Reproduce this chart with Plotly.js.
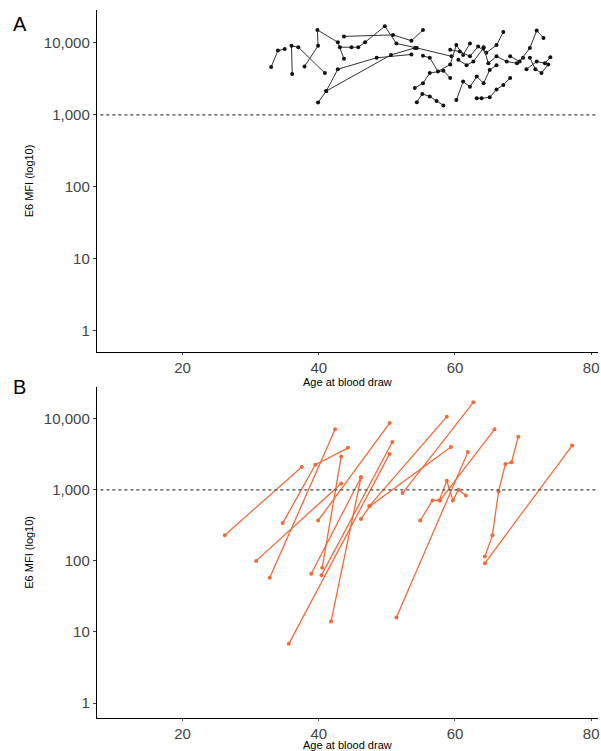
<!DOCTYPE html>
<html><head><script src="https://cdn.plot.ly/plotly-3.0.1.min.js"></script>
<style>body{margin:0}</style></head><body><div id="c" style="width:601px;height:751px"></div>
<script>
// Panel A: HPV16 E6 seropositive individuals (age, MFI sequences)
const aAges = [
 [33.0,34.0,35.0],[36.1,36.0,37.0,40.9],[37.9,39.9,39.8,42.8,43.7],
 [39.9,41.1,42.8,48.5,53.6],[41.1,50.6,54.1],[43.7,50.9,53.6,55.3],
 [43.1,44.8,45.8,46.8,49.7,51.4,54.4,59.5],[54.1,55.3,56.3,58.3,59.3],
 [54.4,55.2,56.3,57.3,58.3],[55.3,56.3,57.5,59.3,60.2,61.2,62.2],
 [60.2,61.2,62.2,63.2,64.2,65.1,66.1],[63.2,63.9,65.1,66.1,67.1,68.1],
 [59.3,60.7,62.2,63.4,64.6,66.1,67.1],[64.2,64.9,66.1,67.6,69.1,70.0],
 [68.1,69.5,71.0,72.0,73.0],[71.0,71.8,72.7,73.7],[70.5,72.0,73.2,74.0],
 [60.5,61.7,62.7,64.2]
];
const aMFI = [
 [4600,7800,8200],[3700,9100,8700,3800],[4700,9100,15100,10200,6000],
 [1480,2140,4300,6200,6900],[2140,6800,8500],[12300,12900,10700,15100],
 [8700,8700,8700,10200,17000,9800,8500,6500],[2350,2750,3800,4100,3250],
 [1500,1950,1800,1550,1350],[6600,6200,4000,5000,9300,6800,9800],
 [1600,2900,2450,3400,2750,4200,4900],[1700,1700,1750,2250,2600,3250],
 [8000,7600,6500,8900,7300,9300,14100],[8700,5200,6500,5500,5200,6200],
 [6500,5500,8500,14800,11700],[6200,4300,3800,5000],[4300,5500,5200,6300],
 [5800,4900,5500,8500]
];
// Panel B: seroconverters
const bAges = [
 [26.2,37.5],[34.7,39.5,44.3],[32.8,42.4],[30.8,43.3],[43.3,40.5],[38.9,46.2],
 [40.4,50.8],[35.6,50.4],[39.9,50.4],[41.8,46.2],[46.2,47.5,59.4],[47.4,58.8],
 [52.3,62.7],[51.4,61.9],[54.9,56.7,57.7,58.8,59.7,60.5,61.6],[57.8,65.8],
 [64.4,65.5,66.4,67.4,68.3,69.3],[64.4,77.2]
];
const bMFI = [
 [230,2100],[340,2250,3900],[58,7100],[100,1230],[2950,80],[66,1500],
 [63,4700],[6.8,3200],[370,8700],[14,1500],[390,590,4000],[590,10700],
 [900,17000],[16,3400],[370,710,710,1340,710,1000,830],[710,7100],
 [115,230,950,2300,2450,5600],[93,4200]
];
const yTickVals = [1,10,100,1000,10000];
const yTickText = ['1','10','100','1,000','10,000'];
const xTickVals = [20,40,60,80];

const traces = [];
aAges.forEach((x,i)=>traces.push({x:x,y:aMFI[i],xaxis:'x',yaxis:'y',mode:'lines+markers',
  line:{color:'#333',width:1},marker:{color:'#111',size:4},showlegend:false}));
bAges.forEach((x,i)=>traces.push({x:x,y:bMFI[i],xaxis:'x2',yaxis:'y2',mode:'lines+markers',
  line:{color:'#f26a3a',width:1.3},marker:{color:'#f26a3a',size:4},showlegend:false}));
[['x','y'],['x2','y2']].forEach(a=>traces.push({x:[0,100],y:[1000,1000],xaxis:a[0],yaxis:a[1],
  mode:'lines',line:{color:'#444',width:1.3,dash:'dot'},showlegend:false,hoverinfo:'skip'}));

const xax = d=>({domain:[0.161,0.995],range:[7.4,81],tickvals:xTickVals,ticks:'outside',ticklen:2,
  showline:true,linecolor:'#000',showgrid:false,zeroline:false,tickfont:{size:15,color:'#444'},
  title:{text:'Age at blood draw',font:{size:11,color:'#000'},standoff:0}});
const yax = (d,r)=>({domain:d,type:'log',range:r,tickvals:yTickVals,ticktext:yTickText,ticks:'outside',ticklen:3,
  showline:true,linecolor:'#000',showgrid:false,zeroline:false,tickfont:{size:15,color:'#444'},
  title:{text:'E6 MFI (log10)',font:{size:11,color:'#000'},standoff:8}});
const layout = {
  width:601,height:751,margin:{l:0,r:0,t:0,b:0},paper_bgcolor:'#fff',plot_bgcolor:'#fff',
  font:{family:'Liberation Sans, Arial, sans-serif'},
  xaxis:Object.assign(xax(),{anchor:'y'}),
  yaxis:Object.assign(yax([0.531,0.987],[-0.3,4.46]),{anchor:'x'}),
  xaxis2:Object.assign(xax(),{anchor:'y2'}),
  yaxis2:Object.assign(yax([0.044,0.485],[-0.21,4.45]),{anchor:'x2'}),
  annotations:[
    {text:'A',x:0.018,y:0.985,xref:'paper',yref:'paper',showarrow:false,font:{size:20,color:'#000'},xanchor:'left',yanchor:'top'},
    {text:'B',x:0.018,y:0.502,xref:'paper',yref:'paper',showarrow:false,font:{size:20,color:'#000'},xanchor:'left',yanchor:'top'}
  ]
};
Plotly.newPlot('c',traces,layout,{staticPlot:true});
</script></body></html>
